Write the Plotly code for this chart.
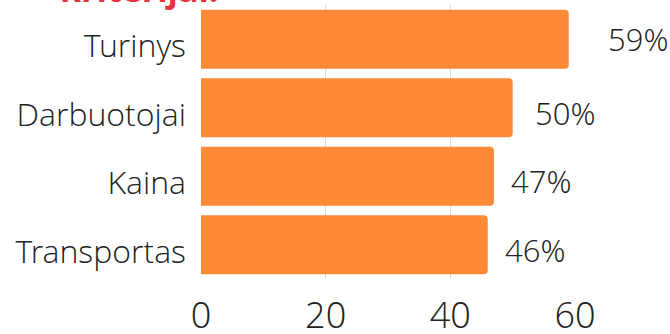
import plotly.graph_objects as go

categories = ["Turinys", "Darbuotojai", "Kaina", "Transportas"]
values = [59, 50, 47, 46]
value_labels = ["59%", "50%", "47%", "46%"]
x_ticks = [0, 20, 40, 60]
title_text = "Pasirinkimo kriterijai"

label_xshifts = [37, 20, 15, 15]
label_yshifts = [0, -5, -5, -5]

FONT = "Open Sans Light, Open Sans"
TEXT = "#222222"

fig = go.Figure(
    go.Bar(
        x=values,
        y=categories,
        orientation="h",
        marker=dict(color="#FE8A38", line=dict(width=0)),
        hoverinfo="skip",
    )
)

for c, v, lab, sx, sy in zip(categories, values, value_labels, label_xshifts, label_yshifts):
    fig.add_annotation(
        x=v, y=c, xref="x", yref="y", text=lab, showarrow=False,
        xanchor="left", yanchor="middle", xshift=sx, yshift=sy,
        font=dict(family=FONT, size=31, color=TEXT, weight=300),
    )

fig.add_annotation(
    x=0, y=1, xref="paper", yref="paper", text="<b>" + title_text.split(" ")[-1] + ":</b>",
    showarrow=False, xanchor="left", yanchor="bottom", xshift=-143, yshift=-8.5,
    font=dict(family="Open Sans", size=34, color="#E5323E"),
)

fig.update_layout(
    width=670, height=334,
    margin=dict(l=201, r=95, t=5, b=55, autoexpand=False),
    paper_bgcolor="white", plot_bgcolor="white",
    bargap=0.14,
    barcornerradius=4,
    showlegend=False,
    font=dict(family=FONT, color=TEXT),
)
fig.update_xaxes(
    range=[0, 60], tickvals=x_ticks, showgrid=True, gridcolor="#dcdcdc", gridwidth=1,
    zeroline=False, showline=False, ticks="", automargin=False,
    tickfont=dict(family=FONT, size=36, color=TEXT, weight=300),
    ticklabelstandoff=12,
)
fig.update_yaxes(
    autorange="reversed", showgrid=False, zeroline=False, showline=False, ticks="",
    automargin=False,
    tickfont=dict(family=FONT, size=32, color=TEXT, weight=300),
    ticklabelstandoff=14, ticklabelshift=-7,
)

fig.write_html("out.html", config={"displayModeBar": False})
